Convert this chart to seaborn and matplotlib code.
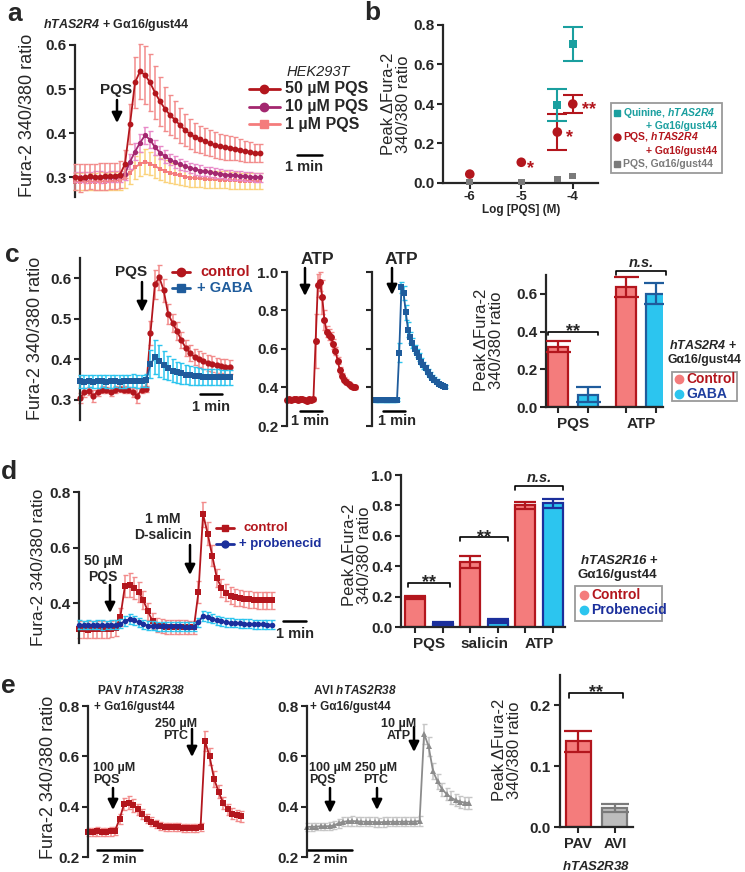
import numpy as np
import pandas as pd
import matplotlib
matplotlib.use("Agg")
import matplotlib.pyplot as plt
from matplotlib.lines import Line2D
from matplotlib.patches import Rectangle, FancyArrowPatch
import seaborn as sns

# ---------------- data ----------------
# a: hTAS2R4 + Ga16/gust44 traces, one sample every 0.2 min
a_step = 0.2
a_pqs50 = [0.300, 0.298, 0.300, 0.302, 0.300, 0.301, 0.302, 0.303, 0.303, 0.306,
           0.330, 0.420, 0.515, 0.540, 0.532, 0.515, 0.492, 0.472, 0.455, 0.441,
           0.430, 0.418, 0.407, 0.398, 0.391, 0.386, 0.381, 0.377, 0.373, 0.370,
           0.368, 0.366, 0.365, 0.362, 0.359, 0.357, 0.355, 0.355]
a_pqs50_sem = [0.030, 0.032, 0.030, 0.028, 0.030, 0.031, 0.030, 0.030, 0.029, 0.030,
               0.032, 0.045, 0.058, 0.062, 0.065, 0.064, 0.060, 0.055, 0.050, 0.046,
               0.042, 0.040, 0.037, 0.035, 0.033, 0.031, 0.030, 0.030, 0.029, 0.028,
               0.028, 0.027, 0.026, 0.025, 0.024, 0.022, 0.021, 0.020]
a_pqs10 = [0.300, 0.300, 0.299, 0.300, 0.301, 0.300, 0.300, 0.301, 0.301, 0.302,
           0.308, 0.335, 0.358, 0.378, 0.395, 0.385, 0.368, 0.356, 0.347, 0.340,
           0.334, 0.329, 0.325, 0.321, 0.318, 0.315, 0.313, 0.311, 0.309, 0.308,
           0.306, 0.305, 0.304, 0.303, 0.302, 0.301, 0.300, 0.300]
a_pqs10_sem = [0.012, 0.012, 0.013, 0.012, 0.012, 0.013, 0.012, 0.012, 0.012, 0.013,
               0.014, 0.017, 0.019, 0.020, 0.020, 0.019, 0.017, 0.015, 0.014, 0.013,
               0.013, 0.012, 0.012, 0.012, 0.012, 0.012, 0.011, 0.011, 0.011, 0.011,
               0.011, 0.011, 0.010, 0.010, 0.010, 0.010, 0.010, 0.010]
a_pqs1 = [0.290, 0.290, 0.291, 0.290, 0.290, 0.291, 0.290, 0.291, 0.292, 0.293,
          0.297, 0.310, 0.322, 0.330, 0.335, 0.331, 0.325, 0.319, 0.314, 0.310,
          0.307, 0.304, 0.301, 0.299, 0.298, 0.297, 0.296, 0.295, 0.295, 0.294,
          0.294, 0.293, 0.293, 0.292, 0.292, 0.292, 0.291, 0.291]
a_pqs1_sem = [0.020, 0.020, 0.021, 0.020, 0.020, 0.021, 0.020, 0.020, 0.020, 0.021,
              0.022, 0.025, 0.027, 0.028, 0.028, 0.027, 0.026, 0.025, 0.024, 0.023,
              0.022, 0.022, 0.021, 0.021, 0.020, 0.020, 0.020, 0.020, 0.020, 0.019,
              0.019, 0.019, 0.019, 0.018, 0.018, 0.018, 0.018, 0.018]

# b: dose response, peak delta ratio
b_logc = [-6, -5, -4.3, -4]
b_pqs = [0.045, 0.105, 0.258, 0.400]
b_pqs_sem = [0.0, 0.0, 0.090, 0.045]
b_gonly = [0.005, 0.005, 0.020, 0.035]
b_quin_logc = [-4.3, -4]
b_quin = [0.395, 0.705]
b_quin_sem = [0.080, 0.085]

# c: GABA, traces every 0.2 min (PQS) and 0.1 min (ATP)
c_step = 0.2
c_pqs_ctrl = [0.305, 0.318, 0.322, 0.310, 0.320, 0.325, 0.324, 0.320, 0.325, 0.326,
              0.325, 0.324, 0.318, 0.310, 0.325, 0.326, 0.465, 0.585, 0.602, 0.570,
              0.512, 0.490, 0.470, 0.447, 0.428, 0.415, 0.406, 0.400, 0.395, 0.391,
              0.388, 0.385, 0.383, 0.382, 0.381]
c_pqs_ctrl_sem = [0.012, 0.010, 0.010, 0.015, 0.010, 0.008, 0.008, 0.010, 0.008, 0.008,
                  0.008, 0.008, 0.010, 0.018, 0.008, 0.008, 0.030, 0.035, 0.030, 0.028,
                  0.025, 0.022, 0.022, 0.020, 0.020, 0.020, 0.020, 0.020, 0.020, 0.020,
                  0.019, 0.019, 0.018, 0.018, 0.018]
c_pqs_gaba = [0.346, 0.345, 0.346, 0.345, 0.346, 0.346, 0.345, 0.346, 0.346, 0.345,
              0.346, 0.346, 0.347, 0.346, 0.347, 0.348, 0.388, 0.405, 0.396, 0.386,
              0.378, 0.372, 0.368, 0.365, 0.362, 0.360, 0.359, 0.358, 0.357, 0.357,
              0.356, 0.356, 0.355, 0.355, 0.355]
c_pqs_gaba_sem = [0.016, 0.016, 0.015, 0.016, 0.016, 0.015, 0.016, 0.016, 0.015, 0.016,
                  0.016, 0.015, 0.016, 0.016, 0.015, 0.016, 0.035, 0.042, 0.040, 0.035,
                  0.030, 0.028, 0.026, 0.025, 0.024, 0.023, 0.022, 0.021, 0.020, 0.020,
                  0.020, 0.020, 0.019, 0.019, 0.018]
c_atp_step = 0.1
c_atp_ctrl = [0.335, 0.340, 0.336, 0.338, 0.340, 0.336, 0.338, 0.340, 0.336, 0.332,
              0.338, 0.336, 0.340, 0.640, 0.930, 0.950, 0.870, 0.750, 0.690, 0.675,
              0.660, 0.625, 0.590, 0.540, 0.490, 0.460, 0.440, 0.430, 0.420, 0.410,
              0.405, 0.400]
c_atp_ctrl_sem = [0.010, 0.012, 0.010, 0.010, 0.012, 0.010, 0.010, 0.012, 0.010, 0.010,
                  0.012, 0.010, 0.010, 0.140, 0.060, 0.050, 0.090, 0.050, 0.030, 0.030,
                  0.030, 0.025, 0.022, 0.020, 0.018, 0.015, 0.012, 0.012, 0.010, 0.010,
                  0.010, 0.010]
c_atp_gaba = [0.335, 0.334, 0.336, 0.335, 0.334, 0.336, 0.335, 0.334, 0.336, 0.335,
              0.336, 0.580, 0.920, 0.890, 0.790, 0.700, 0.660, 0.630, 0.600, 0.580,
              0.560, 0.535, 0.515, 0.500, 0.480, 0.465, 0.450, 0.440, 0.430, 0.420,
              0.415, 0.410, 0.405]
c_atp_gaba_sem = [0.008, 0.008, 0.009, 0.008, 0.008, 0.009, 0.008, 0.008, 0.009, 0.008,
                  0.008, 0.050, 0.030, 0.035, 0.040, 0.040, 0.030, 0.025, 0.022, 0.020,
                  0.020, 0.018, 0.018, 0.016, 0.015, 0.014, 0.013, 0.012, 0.012, 0.011,
                  0.010, 0.010, 0.010]
c_groups = ['PQS', 'ATP']
c_bar_ctrl = [0.320, 0.637]
c_bar_ctrl_sem = [0.030, 0.053]
c_bar_gaba = [0.065, 0.600]
c_bar_gaba_sem = [0.040, 0.055]

# d: probenecid, hTAS2R16, one sample every 0.2 min
d_step = 0.2
d_ctrl = [0.305, 0.306, 0.304, 0.305, 0.306, 0.305, 0.305, 0.306, 0.310, 0.350,
          0.462, 0.465, 0.455, 0.440, 0.410, 0.370, 0.335, 0.320, 0.316, 0.315,
          0.313, 0.314, 0.315, 0.313, 0.312, 0.312, 0.440, 0.720, 0.650, 0.570,
          0.490, 0.455, 0.437, 0.427, 0.421, 0.418, 0.415, 0.413, 0.411, 0.410,
          0.410, 0.410, 0.410]
d_ctrl_sem = [0.030, 0.031, 0.030, 0.030, 0.031, 0.030, 0.030, 0.030, 0.030, 0.032,
              0.040, 0.042, 0.040, 0.036, 0.032, 0.030, 0.028, 0.026, 0.025, 0.025,
              0.025, 0.025, 0.025, 0.025, 0.025, 0.025, 0.040, 0.045, 0.042, 0.038,
              0.034, 0.032, 0.031, 0.030, 0.030, 0.030, 0.030, 0.030, 0.030, 0.030,
              0.030, 0.030, 0.030]
d_prob = [0.322, 0.321, 0.322, 0.321, 0.322, 0.321, 0.321, 0.322, 0.322, 0.326,
          0.335, 0.342, 0.338, 0.330, 0.323, 0.319, 0.318, 0.317, 0.317, 0.316,
          0.316, 0.316, 0.316, 0.315, 0.315, 0.315, 0.330, 0.355, 0.350, 0.344,
          0.338, 0.334, 0.331, 0.329, 0.328, 0.327, 0.326, 0.325, 0.324, 0.323,
          0.323, 0.322, 0.322]
d_prob_sem = [0.016, 0.016, 0.017, 0.016, 0.016, 0.017, 0.016, 0.016, 0.016, 0.016,
              0.017, 0.017, 0.017, 0.016, 0.016, 0.016, 0.016, 0.016, 0.016, 0.016,
              0.016, 0.016, 0.016, 0.016, 0.016, 0.016, 0.017, 0.018, 0.018, 0.017,
              0.017, 0.017, 0.016, 0.016, 0.016, 0.016, 0.016, 0.016, 0.016, 0.016,
              0.016, 0.016, 0.016]
d_groups = ['PQS', 'salicin', 'ATP']
d_bar_ctrl = [0.195, 0.427, 0.800]
d_bar_ctrl_sem = [0.012, 0.040, 0.025]
d_bar_prob = [0.020, 0.040, 0.813]
d_bar_prob_sem = [0.010, 0.012, 0.027]

# e: hTAS2R38 PAV / AVI, one sample every 0.2 min
e_step = 0.2
e_pav = [0.300, 0.301, 0.302, 0.300, 0.300, 0.302, 0.305, 0.350, 0.410, 0.415,
         0.405, 0.390, 0.370, 0.352, 0.340, 0.330, 0.322, 0.320, 0.320, 0.318,
         0.318, 0.316, 0.315, 0.315, 0.315, 0.318, 0.660, 0.600, 0.510, 0.460,
         0.415, 0.390, 0.372, 0.365, 0.362]
e_pav_sem = [0.016, 0.016, 0.017, 0.016, 0.016, 0.017, 0.016, 0.020, 0.025, 0.026,
             0.025, 0.022, 0.020, 0.018, 0.017, 0.016, 0.016, 0.016, 0.016, 0.016,
             0.016, 0.016, 0.016, 0.016, 0.016, 0.016, 0.040, 0.035, 0.030, 0.026,
             0.024, 0.022, 0.022, 0.022, 0.022]
e_avi = [0.320, 0.320, 0.321, 0.322, 0.322, 0.323, 0.326, 0.334, 0.340, 0.342,
         0.343, 0.342, 0.341, 0.340, 0.340, 0.339, 0.338, 0.339, 0.340, 0.340,
         0.340, 0.340, 0.341, 0.340, 0.341, 0.343, 0.690, 0.640, 0.540, 0.500,
         0.470, 0.450, 0.436, 0.426, 0.420, 0.416, 0.415]
e_avi_sem = [0.015, 0.015, 0.015, 0.015, 0.015, 0.015, 0.016, 0.017, 0.018, 0.018,
             0.018, 0.018, 0.018, 0.018, 0.018, 0.018, 0.018, 0.018, 0.018, 0.018,
             0.018, 0.018, 0.018, 0.018, 0.018, 0.018, 0.040, 0.038, 0.032, 0.028,
             0.026, 0.025, 0.025, 0.024, 0.024, 0.024, 0.024]
e_groups = ['PAV', 'AVI']
e_bar = [0.141, 0.031]
e_bar_sem = [0.017, 0.007]

# ---------------- colours ----------------
RED = '#b3161d'
PINK = '#f28b8b'
SALMON = '#f47c7c'
PURPLE = '#a3276f'
MAGENTA = '#e889c8'
YELLOW = '#fbd27a'
BLUE = '#1f5c9c'
CYAN = '#2cc5ef'
NAVY = '#1b2f9c'
TEAL = '#1a9f9f'
GRAY = '#7a7a7a'
LGRAY = '#bdbdbd'
TGRAY = '#8c8c8c'
TGRAY_ERR = '#c6c6c6'

sns.set_style('ticks')
plt.rcParams['font.family'] = ['Liberation Sans', 'DejaVu Sans']
plt.rcParams['mathtext.fontset'] = 'custom'
plt.rcParams['mathtext.rm'] = 'Liberation Sans'
plt.rcParams['mathtext.it'] = 'Liberation Sans:italic'
plt.rcParams['mathtext.bf'] = 'Liberation Sans:bold'
plt.rcParams['mathtext.bfit'] = 'Liberation Sans:italic:bold'
plt.rcParams['axes.linewidth'] = 1.6

W, H = 745, 872
fig = plt.figure(figsize=(W / 100, H / 100), dpi=100)


def px_axes(l, t, r, b):
    ax = fig.add_axes([l / W, 1 - b / H, (r - l) / W, (b - t) / H])
    ax.set_facecolor('none')
    return ax


def ftext(x, y, s, **kw):
    kw.setdefault('ha', 'center')
    kw.setdefault('va', 'center')
    kw.setdefault('fontweight', 'bold')
    return fig.text(x / W, 1 - y / H, s, **kw)


def fline(xs, ys, **kw):
    fig.add_artist(Line2D([x / W for x in xs], [1 - y / H for y in ys],
                          transform=fig.transFigure, **kw))


def farrow(x, y0, y1):
    fig.add_artist(FancyArrowPatch((x / W, 1 - y0 / H), (x / W, 1 - y1 / H),
                                   transform=fig.transFigure, arrowstyle='-|>',
                                   mutation_scale=15, lw=1.8, color='k',
                                   shrinkA=0, shrinkB=0))


def fbox(l, t, r, b):
    fig.add_artist(Rectangle((l / W, 1 - b / H), (r - l) / W, (b - t) / H,
                             transform=fig.transFigure, fill=False,
                             ec='#9a9a9a', lw=1.3))


def trace(ax, y, err, step, color, ecolor, marker, ms, z):
    t = np.arange(len(y)) * step
    ax.errorbar(t, y, yerr=err, fmt='none', ecolor=ecolor, elinewidth=1.1,
                capsize=1.8, capthick=1.0, zorder=z, clip_on=False)
    sns.lineplot(x=t, y=y, ax=ax, color=color, marker=marker, markersize=ms,
                 markeredgewidth=0, linewidth=1.3, zorder=z + 0.5, clip_on=False)


def trace_axes(ax, xlim, ylim, ticks, show=True):
    ax.set_xlim(*xlim)
    ax.set_ylim(*ylim)
    sns.despine(ax=ax, bottom=True)
    ax.set_xticks([])
    ax.set_yticks(ticks, [f'{v:.1f}' if show else '' for v in ticks],
                  fontsize=11, fontweight='bold')
    ax.tick_params(axis='y', length=4, width=1.5, pad=2)
    ax.set_xlabel('')
    ax.set_ylabel('')


def scalebar(ax, t0, t1, y):
    ax.plot([t0, t1], [y, y], color='k', lw=1.8, clip_on=False)


def bars(ax, df, hue, palette, edges, sems, width, gap, cap):
    sns.barplot(df, x='stim', y='peak', hue=hue, palette=palette, width=width,
                gap=gap, errorbar=None, legend=False, ax=ax, linewidth=1.6,
                saturation=1)
    out = []
    for cont, ec, sem in zip(ax.containers, edges, sems):
        for bar, e in zip(cont, sem):
            bar.set_edgecolor(ec)
            cx = bar.get_x() + bar.get_width() / 2
            out.append(bar)
            ax.errorbar(cx, bar.get_height(), yerr=e, fmt='none', ecolor=ec,
                        elinewidth=1.6, capsize=cap, capthick=1.6, zorder=3)
    ax.set_xlabel('')
    ax.set_ylabel('')
    sns.despine(ax=ax)
    return out


def bracket(ax, x0, x1, y, tick, label, italic=False):
    ax.plot([x0, x0, x1, x1], [y - tick, y, y, y - tick], color='k', lw=1.2,
            clip_on=False)
    ax.annotate(label, xy=((x0 + x1) / 2, y), xytext=(0, 1 if italic else -6),
                textcoords='offset points', ha='center', va='bottom',
                fontsize=10.5 if italic else 13, fontweight='bold',
                fontstyle='italic' if italic else 'normal', annotation_clip=False)


def bar_ticks(ax, barlist, ticks):
    ax.set_yticks(ticks, [f'{v:.1f}' for v in ticks], fontsize=11, fontweight='bold')
    ax.tick_params(axis='y', length=4, width=1.5, pad=2)
    ax.set_xticks(ax.get_xticks(), [lab.get_text() for lab in ax.get_xticklabels()],
                  fontsize=11, fontweight='bold')
    ax.set_xticks([b.get_x() + b.get_width() / 2 for b in barlist], minor=True)
    ax.tick_params(axis='x', which='major', length=0, pad=7)
    ax.tick_params(axis='x', which='minor', length=4, width=1.5)


YL = dict(rotation=90, fontweight='normal', fontsize=13)
YL2 = dict(rotation=90, fontweight='normal', fontsize=12, linespacing=1.0)

# ---------------- panel a ----------------
ax = px_axes(75, 45, 262, 197)
trace(ax, a_pqs1, a_pqs1_sem, a_step, SALMON, YELLOW, 's', 3.5, 2)
trace(ax, a_pqs10, a_pqs10_sem, a_step, PURPLE, MAGENTA, 'o', 3.8, 3)
trace(ax, a_pqs50, a_pqs50_sem, a_step, RED, PINK, 'o', 4.2, 4)
trace_axes(ax, (0, 7.48), (0.255, 0.6), [0.3, 0.4, 0.5, 0.6])
scalebar(ax, 8.88, 9.88, 0.35)
ftext(304, 167, '1 min', fontsize=10.5)
ftext(116, 90, 'PQS', fontsize=11)
farrow(117, 100, 123)
ftext(15, 14, 'a', fontsize=19)
ftext(43, 25, '$\\mathbfit{hTAS2R4}$ + Gα16/gust44', ha='left', fontsize=9)
ftext(28, 115, 'Fura-2 340/380 ratio', **YL)
ftext(287, 72, 'HEK293T', ha='left', fontsize=10.5, fontweight='normal', fontstyle='italic')
for yy, lab, c, m in [(89, '50 µM PQS', RED, 'o'), (107, '10 µM PQS', PURPLE, 'o'),
                      (124, '1 µM PQS', SALMON, 's')]:
    fline([249, 280], [yy, yy], color=c, lw=2)
    fline([264], [yy], color=c, marker=m, ms=6, lw=0)
    ftext(285, yy, lab, ha='left', fontsize=11.5)

# ---------------- panel b ----------------
ax = px_axes(443, 25, 598, 183)
sns.scatterplot(x=b_logc, y=b_gonly, marker='s', s=24, color=GRAY, edgecolor='none',
                ax=ax, clip_on=False, zorder=3)
ax.errorbar(b_logc[2:], b_pqs[2:], yerr=b_pqs_sem[2:], fmt='none', ecolor=RED,
            elinewidth=1.5, capsize=7, capthick=1.5, zorder=4)
sns.scatterplot(x=b_logc, y=b_pqs, marker='o', s=48, color=RED, edgecolor='none',
                ax=ax, clip_on=False, zorder=5)
ax.errorbar(b_quin_logc, b_quin, yerr=b_quin_sem, fmt='none', ecolor=TEAL,
            elinewidth=1.5, capsize=7, capthick=1.5, zorder=4)
sns.scatterplot(x=b_quin_logc, y=b_quin, marker='s', s=36, color=TEAL, edgecolor='none',
                ax=ax, clip_on=False, zorder=5)
ax.set_xlim(-6.52, -3.51)
ax.set_ylim(0, 0.8)
sns.despine(ax=ax)
ax.set_xticks([-6, -5, -4], ['-6', '-5', '-4'], fontsize=9.5, fontweight='bold')
ax.set_yticks([0, 0.2, 0.4, 0.6, 0.8], ['0.0', '0.2', '0.4', '0.6', '0.8'],
              fontsize=11, fontweight='bold')
ax.tick_params(length=4, width=1.5, pad=2)
for (x, y, s, dx) in [(b_logc[1], b_pqs[1], '*', 4), (b_logc[2], b_pqs[2], '*', 6.5),
                      (b_logc[3], b_pqs[3], '**', 6.5)]:
    ax.annotate(s, xy=(x, y), xytext=(dx, -7.5), textcoords='offset points', ha='left',
                va='baseline', color=RED, fontsize=13, fontweight='bold',
                annotation_clip=False)
ftext(521, 210, 'Log [PQS] (M)', fontsize=8.5)
ftext(396, 104, 'Peak ΔFura-2\n340/380 ratio', **YL2)
ftext(372, 13, 'b', fontsize=19)
fbox(611, 103, 722, 173)
fline([617], [113], marker='s', ms=4.5, color=TEAL, lw=0)
ftext(623, 113, 'Quinine, $\\mathbfit{hTAS2R4}$', ha='left', fontsize=7.5, color=TEAL)
ftext(717, 126, '+ Gα16/gust44', ha='right', fontsize=7.5, color=TEAL)
fline([617], [137], marker='o', ms=5, color=RED, lw=0)
ftext(623, 137, 'PQS, $\\mathbfit{hTAS2R4}$', ha='left', fontsize=7.5, color=RED)
ftext(717, 151, '+ Gα16/gust44', ha='right', fontsize=7.5, color=RED)
fline([617], [164], marker='s', ms=4.5, color=GRAY, lw=0)
ftext(623, 164, 'PQS, Gα16/gust44', ha='left', fontsize=7.5, color=GRAY)

# ---------------- panel c ----------------
ax = px_axes(80, 258, 232, 420)
trace(ax, c_pqs_ctrl, c_pqs_ctrl_sem, c_step, RED, PINK, 'o', 4.5, 2)
trace(ax, c_pqs_gaba, c_pqs_gaba_sem, c_step, BLUE, CYAN, 's', 4.2, 4)
trace_axes(ax, (0, 6.9), (0.25, 0.65), [0.3, 0.4, 0.5, 0.6])
scalebar(ax, 5.45, 6.45, 0.314)
ftext(211, 407, '1 min', fontsize=10.5)
ftext(131, 272, 'PQS', fontsize=11)
farrow(142, 282, 312)
fline([172, 190], [272, 272], color=RED, lw=2)
fline([181], [272], marker='o', ms=6, color=RED, lw=0)
ftext(200, 272, 'control', ha='left', fontsize=10.5, color=RED)
fline([172, 190], [288, 288], color=BLUE, lw=2)
fline([181], [288], marker='s', ms=5.5, color=BLUE, lw=0)
ftext(197, 288, '+ GABA', ha='left', fontsize=10.5, color=BLUE)
ftext(36, 338, 'Fura-2 340/380 ratio', **YL)
ftext(12, 255, 'c', fontsize=19)

ax = px_axes(287, 272, 357, 426)
trace(ax, c_atp_ctrl, c_atp_ctrl_sem, c_atp_step, RED, PINK, 'o', 5, 2)
trace_axes(ax, (0, 3.18), (0.2, 1.0), [0.2, 0.4, 0.6, 0.8, 1.0])
scalebar(ax, 0.59, 1.59, 0.278)
ftext(310, 421, '1 min', fontsize=10.5)
ftext(317, 259, 'ATP', fontsize=12.5)
farrow(305, 268, 296)

ax = px_axes(372, 272, 447, 426)
trace(ax, c_atp_gaba, c_atp_gaba_sem, c_atp_step, BLUE, CYAN, 's', 4.5, 2)
trace_axes(ax, (-0.136, 3.27), (0.2, 1.0), [0.2, 0.4, 0.6, 0.8, 1.0], show=False)
scalebar(ax, 0.36, 1.36, 0.278)
ftext(397, 421, '1 min', fontsize=10.5)
ftext(401, 259, 'ATP', fontsize=12.5)
farrow(392, 268, 295)

ax = px_axes(546, 275, 663, 407)
df_c = pd.DataFrame({'stim': c_groups * 2,
                     'cond': ['Control'] * len(c_groups) + ['GABA'] * len(c_groups),
                     'peak': c_bar_ctrl + c_bar_gaba})
bl = bars(ax, df_c, 'cond', [SALMON, CYAN], [RED, BLUE], [c_bar_ctrl_sem, c_bar_gaba_sem],
          0.88, 0.34, 9)
ax.set_xlim(-0.40, 1.32)
ax.set_ylim(0, 0.70)
bar_ticks(ax, bl, [0, 0.2, 0.4, 0.6])
bracket(ax, bl[0].get_x(), bl[2].get_x() + bl[2].get_width(), 0.40, 0.02, '**')
bracket(ax, bl[1].get_x(), bl[3].get_x() + bl[3].get_width(), 0.72, 0.02, 'n.s.', italic=True)
ftext(489, 340, 'Peak ΔFura-2\n340/380 ratio', **YL2)
ftext(669, 345, '$\\mathbfit{hTAS2R4}$ +', ha='left', fontsize=9)
ftext(668, 360, 'Gα16/gust44', ha='left', fontsize=8.8)
fbox(672, 372, 737, 401)
fline([679], [379], marker='o', ms=6, color=SALMON, lw=0)
ftext(686, 379, 'Control', ha='left', fontsize=10, color=RED)
fline([679], [394], marker='o', ms=6, color=CYAN, lw=0)
ftext(686, 394, 'GABA', ha='left', fontsize=10, color='#1f3f9f')

# ---------------- panel d ----------------
ax = px_axes(79, 492, 272, 643)
trace(ax, d_ctrl, d_ctrl_sem, d_step, RED, PINK, 's', 4, 2)
trace(ax, d_prob, d_prob_sem, d_step, NAVY, CYAN, 'o', 4, 3)
trace_axes(ax, (0, 8.4), (0.256, 0.8), [0.4, 0.6, 0.8])
scalebar(ax, 8.87, 9.87, 0.335)
ftext(295, 634, '1 min', fontsize=10.5)
ftext(103, 569, '50 µM\nPQS', fontsize=10, linespacing=1.1)
farrow(110, 585, 613)
ftext(163, 527, '1 mM\nD-salicin', fontsize=10, linespacing=1.1)
farrow(190, 545, 575)
fline([216, 234], [528, 528], color=RED, lw=2)
fline([225], [528], marker='s', ms=5, color=RED, lw=0)
ftext(243, 528, 'control', ha='left', fontsize=9.5, color=RED)
fline([216, 234], [544, 544], color=NAVY, lw=2)
fline([225], [544], marker='o', ms=5, color=NAVY, lw=0)
ftext(239, 544, '+ probenecid', ha='left', fontsize=9.5, color=NAVY)
ftext(39, 567, 'Fura-2 340/380 ratio', fontsize=12.5, rotation=90, fontweight='normal')
ftext(9, 472, 'd', fontsize=19)

ax = px_axes(401, 475, 565, 627)
df_d = pd.DataFrame({'stim': d_groups * 2,
                     'cond': ['Control'] * len(d_groups) + ['Probenecid'] * len(d_groups),
                     'peak': d_bar_ctrl + d_bar_prob})
bl = bars(ax, df_d, 'cond', [SALMON, CYAN], [RED, NAVY], [d_bar_ctrl_sem, d_bar_prob_sem],
          1.02, 0.28, 8)
ax.set_xlim(-0.51, 2.47)
ax.set_ylim(0, 1.0)
bar_ticks(ax, bl, [0, 0.2, 0.4, 0.6, 0.8, 1.0])
bracket(ax, bl[0].get_x() + 0.05, bl[3].get_x() + bl[3].get_width() - 0.05, 0.29, 0.025, '**')
bracket(ax, bl[1].get_x(), bl[4].get_x() + bl[4].get_width(), 0.59, 0.025, '**')
bracket(ax, bl[2].get_x(), bl[5].get_x() + bl[5].get_width(), 0.925, 0.025, 'n.s.', italic=True)
ftext(357, 555, 'Peak ΔFura-2\n340/380 ratio', **YL2)
ftext(580, 560, '$\\mathbfit{hTAS2R16}$ +', ha='left', fontsize=9.5)
ftext(577, 575, 'Gα16/gust44', ha='left', fontsize=9.5)
fbox(575, 586, 662, 621)
fline([584], [595], marker='o', ms=6, color=SALMON, lw=0)
ftext(591, 595, 'Control', ha='left', fontsize=10, color=RED)
fline([584], [610], marker='o', ms=6, color=CYAN, lw=0)
ftext(591, 610, 'Probenecid', ha='left', fontsize=10, color=NAVY)

# ---------------- panel e ----------------
ax = px_axes(88, 706, 242, 857)
trace(ax, e_pav, e_pav_sem, e_step, RED, PINK, 's', 4.2, 2)
trace_axes(ax, (0, 6.84), (0.2, 0.8), [0.2, 0.4, 0.6, 0.8])
scalebar(ax, 0.4, 2.4, 0.228)
ftext(119, 860, '2 min', fontsize=9.5)
ftext(141, 690, 'PAV $\\mathbfit{hTAS2R38}$', fontsize=8.5)
ftext(94, 707, '+ Gα16/gust44', ha='left', fontsize=8.5)
ftext(93, 774, '100 µM\nPQS', ha='left', fontsize=9, linespacing=1.1)
farrow(113, 788, 810)
ftext(176, 730, '250 µM\nPTC', fontsize=9, linespacing=1.1)
farrow(192, 729, 757)
ftext(49, 777, 'Fura-2 340/380 ratio', **YL)
ftext(8, 686, 'e', fontsize=19)

ax = px_axes(307, 706, 470, 857)
trace(ax, e_avi, e_avi_sem, e_step, TGRAY, TGRAY_ERR, '^', 4.2, 2)
trace_axes(ax, (0, 7.24), (0.2, 0.8), [0.2, 0.4, 0.6, 0.8])
scalebar(ax, 0.0, 2.0, 0.228)
ftext(330, 860, '2 min', fontsize=9.5)
ftext(313, 690, 'AVI $\\mathbfit{hTAS2R38}$', ha='left', fontsize=8.5)
ftext(310, 707, '+ Gα16/gust44', ha='left', fontsize=8.5)
ftext(309, 774, '100 µM\nPQS', ha='left', fontsize=9, linespacing=1.1)
farrow(330, 788, 813)
ftext(376, 774, '250 µM\nPTC', fontsize=9, linespacing=1.1)
farrow(377, 788, 810)
ftext(399, 730, '10 µM\nATP', fontsize=9, linespacing=1.1)
farrow(414, 727, 752)

ax = px_axes(560, 675, 633, 827)
df_e = pd.DataFrame({'stim': e_groups, 'peak': e_bar})
bl = bars(ax, df_e, 'stim', [SALMON, LGRAY], [RED, GRAY], [[e_bar_sem[0]], [e_bar_sem[1]]],
          0.68, 0, 10)
ax.set_xlim(-0.49, 1.49)
ax.set_ylim(0, 0.25)
ax.set_yticks([0, 0.1, 0.2], ['0.0', '0.1', '0.2'], fontsize=11, fontweight='bold')
ax.set_xticks([0, 1], e_groups, fontsize=10.5, fontweight='bold')
ax.tick_params(length=4, width=1.5, pad=3)
bracket(ax, bl[0].get_x() + 0.1, bl[1].get_x() + bl[1].get_width() - 0.12, 0.22, 0.008, '**')
ftext(596, 866, '$\\mathbfit{hTAS2R38}$', fontsize=9.5)
ftext(507, 750, 'Peak ΔFura-2\n340/380 ratio', **YL2)

fig.savefig('out.png', dpi=100)
